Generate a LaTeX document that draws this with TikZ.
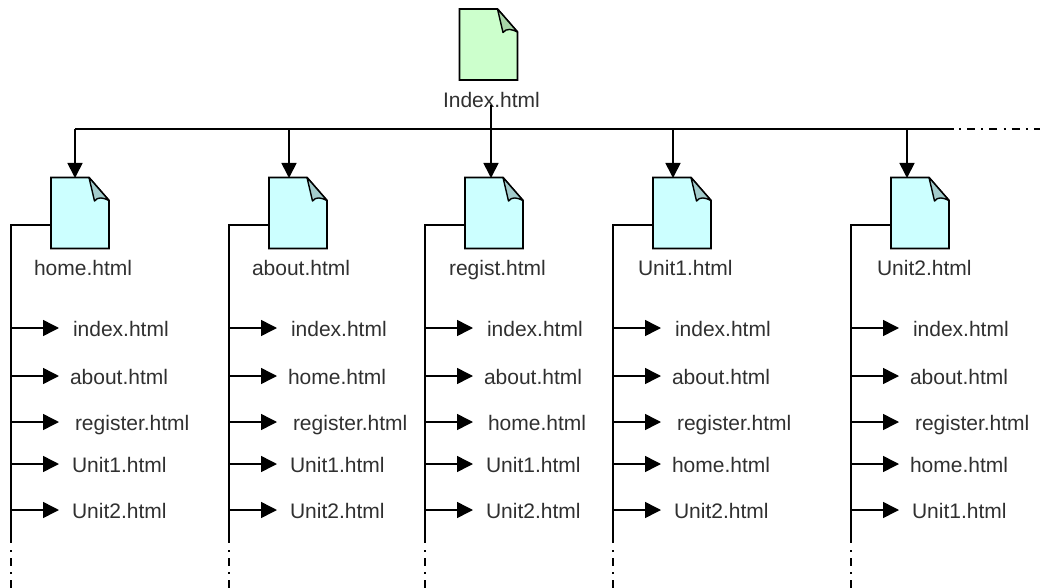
\documentclass[tikz,border=0pt]{standalone}
\usepackage{fontspec}
\setmainfont{Liberation Sans}
\usetikzlibrary{arrows.meta,calc}
\definecolor{docgreen}{HTML}{CCFFCC}
\definecolor{foldgreen}{HTML}{A8D4A8}
\definecolor{doccyan}{HTML}{CCFFFF}
\definecolor{foldcyan}{HTML}{A3CCCC}
\definecolor{ink}{HTML}{303030}
\tikzset{
  x=1pt,y=-1pt,
  docbox/.style={minimum width=58pt,minimum height=71pt,inner sep=0pt,outer sep=0pt},
  docline/.style={draw=black,line width=1.7pt,line join=miter},
  foldline/.style={draw=black,line width=1.4pt,line join=round},
  lbl/.style={anchor=base west,inner sep=0pt,outer sep=0pt,text=ink,font=\fontsize{21pt}{23pt}\selectfont},
  bus/.style={draw=black,line width=1.9pt},
  drop/.style={draw=black,line width=1.7pt,-{Triangle[length=15pt,width=15pt]},shorten >=-0.5pt},
  spine/.style={draw=black,line width=1.9pt},
  branchline/.style={draw=black,line width=1.5pt,-{Triangle[length=16pt,width=16pt]}},
  fade/.style={draw=black,line width=1.9pt,dash pattern=on 2pt off 6pt on 8pt off 6.3pt},
}
% #1 name, #2 left x, #3 top y, #4 fill, #5 fold fill
\newcommand{\docfile}[5]{%
  \node[docbox,anchor=north west] (#1) at (#2,#3) {};
  \path[docline,fill=#4] (#1.north west) -- ($(#1.north east)+(-20,0)$) -- ($(#1.north east)+(0,23)$) -- (#1.south east) -- (#1.south west) -- cycle;
  \path[foldline,fill=#5] ($(#1.north east)+(-20,0)$) -- ($(#1.north east)+(-14.5,23.5)$) .. controls ($(#1.north east)+(-11,19)$) and ($(#1.north east)+(-6,20)$) .. ($(#1.north east)+(0,23)$) -- cycle;
}
% #1 name, #2 doc x, #3 drop x, #4 spine x, #5 title, #6 title x, #7 list of x/baseline/text
\newcommand{\pagecolumn}[7]{%
  \docfile{#1}{#2}{177.5}{doccyan}{foldcyan}
  \node[lbl] (#1-title) at (#6,275) {#5};
  \coordinate (#1-bus) at (#3,129);
  \draw[drop] (#1-bus) -- (#1-bus |- #1.north);
  \coordinate (#1-elbow) at (#1.west |- 0,225);
  \coordinate (#1-top) at (#4,225);
  \coordinate (#1-end) at (#4,543);
  \coordinate (#1-out) at (#4,588);
  \draw[spine] (#1-elbow) -- (#1-top) -- (#1-end);
  \draw[fade] (#1-end) ++(0,7) -- (#1-out);
  \foreach \lx/\by/\txt [count=\n] in {#7}{
    \coordinate (#1-s\n) at (#4,\by-8);
    \coordinate (#1-t\n) at (#4+48,\by-8);
    \node[lbl] (#1-l\n) at (\lx,\by) {\txt};
    \draw[branchline] (#1-s\n) -- (#1-t\n);
  }
}
\begin{document}
\begin{tikzpicture}
\useasboundingbox (0,0) rectangle (1040,588);
\docfile{index}{459.5}{9}{docgreen}{foldgreen}
\node[lbl] (index-title) at (443,107.5) {Index.html};
\coordinate (busL) at (75,129);
\coordinate (busR) at (954,129);
\coordinate (busEnd) at (1040,129);
\coordinate (indexdrop) at (491,105);
\draw[bus] (busL) -- (busR);
\draw[fade] (busR) ++(5,0) -- (busEnd);
\pagecolumn{home}{51}{75}{11}{home.html}{34}{73/336/index.html,70/384/about.html,75/430/register.html,72/472/Unit1.html,72/518/Unit2.html}
\pagecolumn{about}{269}{289}{229}{about.html}{252}{291/336/index.html,288/384/home.html,293/430/register.html,290/472/Unit1.html,290/518/Unit2.html}
\pagecolumn{regist}{465}{491}{425}{regist.html}{449}{487/336/index.html,484/384/about.html,488/430/home.html,486/472/Unit1.html,486/518/Unit2.html}
\pagecolumn{unita}{653}{673}{613}{Unit1.html}{638}{675/336/index.html,672/384/about.html,677/430/register.html,672/472/home.html,674/518/Unit2.html}
\pagecolumn{unitb}{891}{907}{851}{Unit2.html}{877}{913/336/index.html,910/384/about.html,915/430/register.html,910/472/home.html,912/518/Unit1.html}
\draw[bus,line width=1.7pt] (indexdrop) -- (regist-bus);
\end{tikzpicture}
\end{document}
